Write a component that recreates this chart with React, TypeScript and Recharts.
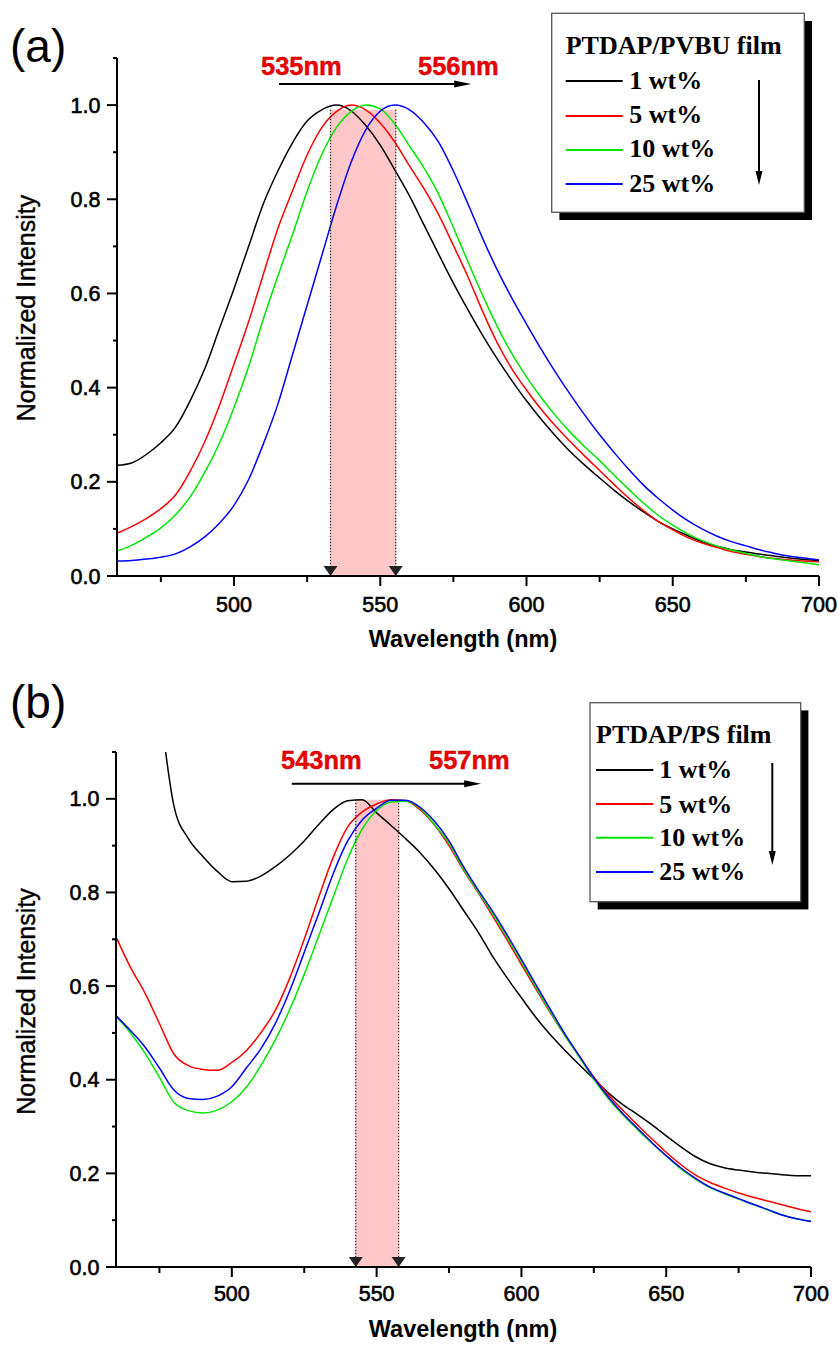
import React from 'react';
import { LineChart, Line, XAxis, YAxis, ReferenceArea, ReferenceLine } from 'recharts';

// ---------- data ----------
const wavelengths = [460, 465, 470, 475, 480, 485, 490, 495, 500, 505, 510, 515, 520, 525, 530, 535, 540, 545, 550, 555, 560, 565, 570, 575, 580, 585, 590, 595, 600, 605, 610, 615, 620, 625, 630, 635, 640, 645, 650, 655, 660, 665, 670, 675, 680, 685, 690, 695, 700];

// (a) PTDAP/PVBU film
const pvbu1 = [0.235, 0.24, 0.258, 0.283, 0.316, 0.372, 0.44, 0.525, 0.61, 0.70, 0.79, 0.86, 0.92, 0.966, 0.99, 1.0, 0.988, 0.957, 0.915, 0.862, 0.807, 0.745, 0.683, 0.622, 0.565, 0.511, 0.461, 0.415, 0.372, 0.333, 0.297, 0.264, 0.235, 0.208, 0.182, 0.158, 0.136, 0.116, 0.1, 0.086, 0.073, 0.063, 0.056, 0.051, 0.046, 0.042, 0.038, 0.035, 0.033];
const pvbu5 = [0.091, 0.105, 0.122, 0.143, 0.172, 0.222, 0.285, 0.362, 0.45, 0.54, 0.64, 0.738, 0.818, 0.894, 0.952, 0.986, 1.0, 0.99, 0.962, 0.921, 0.871, 0.822, 0.767, 0.702, 0.635, 0.562, 0.495, 0.44, 0.395, 0.354, 0.318, 0.285, 0.254, 0.224, 0.194, 0.165, 0.139, 0.116, 0.098, 0.082, 0.07, 0.061, 0.052, 0.046, 0.041, 0.037, 0.034, 0.032, 0.03];
const pvbu10 = [0.053, 0.065, 0.082, 0.102, 0.13, 0.168, 0.22, 0.282, 0.358, 0.445, 0.545, 0.637, 0.725, 0.817, 0.895, 0.952, 0.986, 1.0, 0.992, 0.96, 0.913, 0.866, 0.81, 0.74, 0.667, 0.596, 0.53, 0.472, 0.423, 0.379, 0.34, 0.305, 0.274, 0.245, 0.214, 0.184, 0.155, 0.129, 0.108, 0.09, 0.075, 0.064, 0.055, 0.048, 0.041, 0.036, 0.032, 0.028, 0.024];
const pvbu25 = [0.032, 0.033, 0.036, 0.04, 0.047, 0.062, 0.083, 0.112, 0.15, 0.205, 0.28, 0.365, 0.47, 0.575, 0.68, 0.785, 0.878, 0.947, 0.987, 1.0, 0.99, 0.962, 0.921, 0.86, 0.79, 0.717, 0.65, 0.59, 0.535, 0.482, 0.432, 0.385, 0.341, 0.3, 0.262, 0.226, 0.193, 0.165, 0.14, 0.118, 0.1, 0.085, 0.073, 0.064, 0.055, 0.048, 0.042, 0.038, 0.034];

// (b) PTDAP/PS film
const ps1 = [1.9, 1.65, 1.42, 1.2, 0.985, 0.915, 0.877, 0.845, 0.823, 0.824, 0.835, 0.855, 0.88, 0.91, 0.945, 0.977, 0.996, 0.998, 0.97, 0.943, 0.915, 0.885, 0.849, 0.808, 0.762, 0.716, 0.664, 0.618, 0.575, 0.533, 0.496, 0.463, 0.432, 0.402, 0.372, 0.347, 0.326, 0.304, 0.28, 0.257, 0.236, 0.221, 0.212, 0.207, 0.203, 0.2, 0.197, 0.195, 0.195];
const ps5 = [0.705, 0.64, 0.585, 0.52, 0.455, 0.43, 0.422, 0.42, 0.437, 0.462, 0.5, 0.548, 0.617, 0.7, 0.79, 0.875, 0.94, 0.972, 0.989, 0.998, 0.996, 0.977, 0.944, 0.9, 0.848, 0.8, 0.75, 0.699, 0.646, 0.594, 0.543, 0.495, 0.45, 0.406, 0.368, 0.335, 0.304, 0.274, 0.245, 0.219, 0.197, 0.181, 0.169, 0.158, 0.149, 0.141, 0.133, 0.125, 0.118];
const ps10 = [0.535, 0.5, 0.457, 0.405, 0.352, 0.334, 0.329, 0.335, 0.353, 0.384, 0.43, 0.485, 0.55, 0.625, 0.707, 0.79, 0.872, 0.935, 0.975, 0.993, 0.995, 0.98, 0.945, 0.905, 0.85, 0.802, 0.755, 0.705, 0.652, 0.598, 0.545, 0.495, 0.448, 0.401, 0.36, 0.325, 0.294, 0.265, 0.237, 0.21, 0.188, 0.17, 0.157, 0.145, 0.134, 0.122, 0.111, 0.103, 0.098];
const ps25 = [0.537, 0.505, 0.47, 0.425, 0.378, 0.36, 0.358, 0.365, 0.385, 0.425, 0.466, 0.52, 0.59, 0.672, 0.755, 0.84, 0.91, 0.955, 0.98, 0.997, 0.997, 0.982, 0.952, 0.91, 0.855, 0.806, 0.76, 0.71, 0.657, 0.603, 0.55, 0.498, 0.451, 0.404, 0.363, 0.328, 0.297, 0.266, 0.238, 0.212, 0.19, 0.171, 0.158, 0.146, 0.134, 0.123, 0.111, 0.103, 0.097];

const seriesKeys = ['w1', 'w5', 'w10', 'w25'];
const seriesNames = ['1 wt%', '5 wt%', '10 wt%', '25 wt%'];
const seriesColors = ['#000000', '#ff0000', '#00e600', '#0000ff'];

const xTicks = [475, 500, 525, 550, 575, 600, 625, 650, 675, 700];
const yTicks = [0, 0.1, 0.2, 0.3, 0.4, 0.5, 0.6, 0.7, 0.8, 0.9, 1.0, 1.1];

// peak markers (nm)
const peaksA = [533, 555.3];
const peaksB = [542.8, 557.6];
const peakLabelsA = ['535nm', '556nm'];
const peakLabelsB = ['543nm', '557nm'];

const SANS = "'Liberation Sans', Arial, Helvetica, sans-serif";
const SERIF = "'Liberation Serif', 'Times New Roman', Times, serif";

function buildRows(s1: number[], s5: number[], s10: number[], s25: number[]) {
  return wavelengths.map((x, i) => ({ x, w1: s1[i], w5: s5[i], w10: s10[i], w25: s25[i] }));
}

const makeXTick = (labelDy: number) => (props: any) => {
  const { x, y, payload } = props;
  const v = payload.value;
  const major = v % 50 === 0;
  return (
    <g>
      <line x1={x} x2={x} y1={y} y2={y + (major ? 10 : 6)} stroke="#000" strokeWidth={2} />
      {major && (
        <text x={x} y={y + labelDy} textAnchor="middle" fontFamily={SANS} fontSize={21.5} fill="#000" stroke="#000" strokeWidth={0.6}>
          {v}
        </text>
      )}
    </g>
  );
};

const YTick = (props: any) => {
  const { x, y, payload } = props;
  const v = payload.value;
  const major = Math.round(v * 10) % 2 === 0;
  return (
    <g>
      <line x1={x} x2={x - (major ? 10 : 4)} y1={y} y2={y} stroke="#000" strokeWidth={2} />
      {major && (
        <text x={x - 16.5} y={y + 7.5} textAnchor="end" fontFamily={SANS} fontSize={21.5} fill="#000" stroke="#000" strokeWidth={0.6}>
          {v.toFixed(1)}
        </text>
      )}
    </g>
  );
};

const DropLine = (p: any) => {
  const { x1, y1, x2, y2 } = p;
  const yb = Math.max(y1, y2);
  const yt = Math.min(y1, y2);
  return (
    <g>
      <line x1={x1} x2={x2} y1={yt} y2={yb} stroke="#333" strokeWidth={1.3} strokeDasharray="1.5 1.5" />
      <polygon points={`${x1 - 7},${yb - 10} ${x1 + 7},${yb - 10} ${x1},${yb}`} fill="#222" />
    </g>
  );
};

const ArrowLine = (p: any) => {
  const { x1, y1, x2 } = p;
  const xl = Math.min(x1, x2);
  const xr = Math.max(x1, x2);
  return (
    <g>
      <line x1={xl} x2={xr - 8} y1={y1} y2={y1} stroke="#000" strokeWidth={2} />
      <polygon points={`${xr},${y1} ${xr - 17},${y1 - 3.5} ${xr - 17},${y1 + 3.5}`} fill="#000" />
    </g>
  );
};

type LegendCfg = {
  title: string;
  box: [number, number, number, number];
  titleX: number;
  titleY: number;
  lineX: [number, number];
  lineYs: number[];
  textX: number;
  textYs: number[];
  arrowX: number;
  arrowY: [number, number];
};

type PanelCfg = {
  top: number;
  height: number;
  margin: { top: number; right: number; bottom: number; left: number };
  yAxisWidth: number;
  xAxisHeight: number;
  tickLabelDy: number;
  rows: any[];
  peaks: number[];
  peakTop: number;
  peakLabels: string[];
  peakLabelPos: [number, number][];
  arrow: [number, number, number];
  panelLabel: string;
  panelLabelY: number;
  yLabelPos: [number, number];
  xLabelPos: [number, number];
  legend: LegendCfg;
};

function Panel({ cfg }: { cfg: PanelCfg }) {
  const W = 839;
  const lg = cfg.legend;
  const [bx, by, bw, bh] = lg.box;
  return (
    <div style={{ position: 'absolute', left: 0, top: cfg.top, width: W, height: cfg.height }}>
      <LineChart width={W} height={cfg.height} data={cfg.rows} margin={cfg.margin}>
        <XAxis
          dataKey="x"
          type="number"
          domain={[460, 700]}
          ticks={xTicks}
          interval={0}
          tickSize={0}
          tickMargin={0}
          tickLine={false}
          height={cfg.xAxisHeight}
          axisLine={{ stroke: '#000', strokeWidth: 2 }}
          tick={makeXTick(cfg.tickLabelDy)}
          allowDataOverflow
        />
        <YAxis
          type="number"
          domain={[0, 1.1]}
          ticks={yTicks}
          interval={0}
          tickSize={0}
          tickMargin={0}
          tickLine={false}
          width={cfg.yAxisWidth}
          axisLine={{ stroke: '#000', strokeWidth: 2 }}
          tick={YTick}
          allowDataOverflow
        />
        {seriesKeys.map((k, i) => (
          <Line
            key={k}
            type="monotone"
            dataKey={k}
            name={seriesNames[i]}
            stroke={seriesColors[i]}
            strokeWidth={1.5}
            dot={false}
            isAnimationActive={false}
          />
        ))}
        <ReferenceArea
          x1={cfg.peaks[0]}
          x2={cfg.peaks[1]}
          y1={0}
          y2={cfg.peakTop}
          fill="#ff0000"
          fillOpacity={0.22}
          stroke="none"
          ifOverflow="visible"
        />
        {cfg.peaks.map((p) => (
          <ReferenceLine
            key={'p' + p}
            segment={[{ x: p, y: 0 }, { x: p, y: cfg.peakTop }]}
            stroke="#333"
            ifOverflow="visible"
            shape={DropLine}
          />
        ))}
        <ReferenceLine
          segment={[{ x: cfg.arrow[0], y: cfg.arrow[2] }, { x: cfg.arrow[1], y: cfg.arrow[2] }]}
          stroke="#000"
          ifOverflow="visible"
          shape={ArrowLine}
        />
      </LineChart>
      <svg
        width={W}
        height={cfg.height}
        style={{ position: 'absolute', left: 0, top: 0, pointerEvents: 'none' }}
      >
        <text x={10} y={cfg.panelLabelY} fontFamily={SANS} fontSize={46} fill="#000">
          {cfg.panelLabel}
        </text>
        {cfg.peakLabels.map((t, i) => (
          <text
            key={t}
            x={cfg.peakLabelPos[i][0]}
            y={cfg.peakLabelPos[i][1]}
            fontFamily={SANS}
            fontWeight="bold"
            fontSize={25.5}
            fill="#ee0000"
            stroke="#b00000"
            strokeWidth={0.4}
          >
            {t}
          </text>
        ))}
        <text
          x={cfg.yLabelPos[0]}
          y={cfg.yLabelPos[1]}
          transform={`rotate(-90, ${cfg.yLabelPos[0]}, ${cfg.yLabelPos[1]})`}
          textAnchor="middle"
          fontFamily={SANS}
          fontSize={25}
          fill="#000"
          stroke="#000"
          strokeWidth={0.4}
        >
          Normalized Intensity
        </text>
        <text
          x={cfg.xLabelPos[0]}
          y={cfg.xLabelPos[1]}
          textAnchor="middle"
          fontFamily={SANS}
          fontWeight="bold"
          fontSize={23.5}
          fill="#000"
        >
          Wavelength (nm)
        </text>
        {/* legend */}
        <rect x={bx + 7.7} y={by + 7.7} width={bw} height={bh} fill="#000" />
        <rect x={bx} y={by} width={bw} height={bh} fill="#fff" stroke="#555" strokeWidth={1.3} />
        <text x={lg.titleX} y={lg.titleY} fontFamily={SERIF} fontWeight="bold" fontSize={26} fill="#000">
          {lg.title}
        </text>
        {seriesNames.map((n, i) => (
          <g key={n}>
            <line x1={lg.lineX[0]} x2={lg.lineX[1]} y1={lg.lineYs[i]} y2={lg.lineYs[i]} stroke={seriesColors[i]} strokeWidth={2} />
            <text x={lg.textX} y={lg.textYs[i]} fontFamily={SERIF} fontWeight="bold" fontSize={26} fill="#000">
              {n}
            </text>
          </g>
        ))}
        <line x1={lg.arrowX} x2={lg.arrowX} y1={lg.arrowY[0]} y2={lg.arrowY[1] - 8} stroke="#000" strokeWidth={2} />
        <polygon
          points={`${lg.arrowX},${lg.arrowY[1]} ${lg.arrowX - 3.5},${lg.arrowY[1] - 14} ${lg.arrowX + 3.5},${lg.arrowY[1] - 14}`}
          fill="#000"
        />
      </svg>
    </div>
  );
}

const panelA: PanelCfg = {
  top: 0,
  height: 673,
  margin: { top: 58, right: 20, bottom: 0, left: 0 },
  yAxisWidth: 117,
  xAxisHeight: 97,
  tickLabelDy: 35.5,
  rows: buildRows(pvbu1, pvbu5, pvbu10, pvbu25),
  peaks: peaksA,
  peakTop: 0.99,
  peakLabels: peakLabelsA,
  peakLabelPos: [[261, 75], [418, 75]],
  arrow: [515.4, 581.1, 1.045],
  panelLabel: '(a)',
  panelLabelY: 62,
  yLabelPos: [35, 308],
  xLabelPos: [463, 647],
  legend: {
    title: 'PTDAP/PVBU film',
    box: [551.7, 13.3, 252.6, 199],
    titleX: 565.7,
    titleY: 54,
    lineX: [565.7, 622.7],
    lineYs: [81, 116, 150, 184],
    textX: 629.3,
    textYs: [89.3, 123.3, 157.3, 191.7],
    arrowX: 759,
    arrowY: [80, 185],
  },
};

const panelB: PanelCfg = {
  top: 673,
  height: 674,
  margin: { top: 79, right: 28, bottom: 0, left: 0 },
  yAxisWidth: 116,
  xAxisHeight: 80,
  tickLabelDy: 33.5,
  rows: buildRows(ps1, ps5, ps10, ps25),
  peaks: peaksB,
  peakTop: 0.998,
  peakLabels: peakLabelsB,
  peakLabelPos: [[281, 96.3], [429, 96.3]],
  arrow: [520.7, 586.1, 1.032],
  panelLabel: '(b)',
  panelLabelY: 45.3,
  yLabelPos: [35, 328.5],
  xLabelPos: [463, 664],
  legend: {
    title: 'PTDAP/PS film',
    box: [590, 29.7, 210.7, 199],
    titleX: 596,
    titleY: 70.3,
    lineX: [596, 653.3],
    lineYs: [97, 131, 164.7, 199],
    textX: 659.3,
    textYs: [105.3, 139.7, 173, 207],
    arrowX: 772.3,
    arrowY: [90, 192],
  },
};

export default function App() {
  return (
    <div style={{ position: 'absolute', left: 0, top: 0, width: 839, height: 1347, background: '#fff', overflow: 'hidden' }}>
      <Panel cfg={panelA} />
      <Panel cfg={panelB} />
    </div>
  );
}
